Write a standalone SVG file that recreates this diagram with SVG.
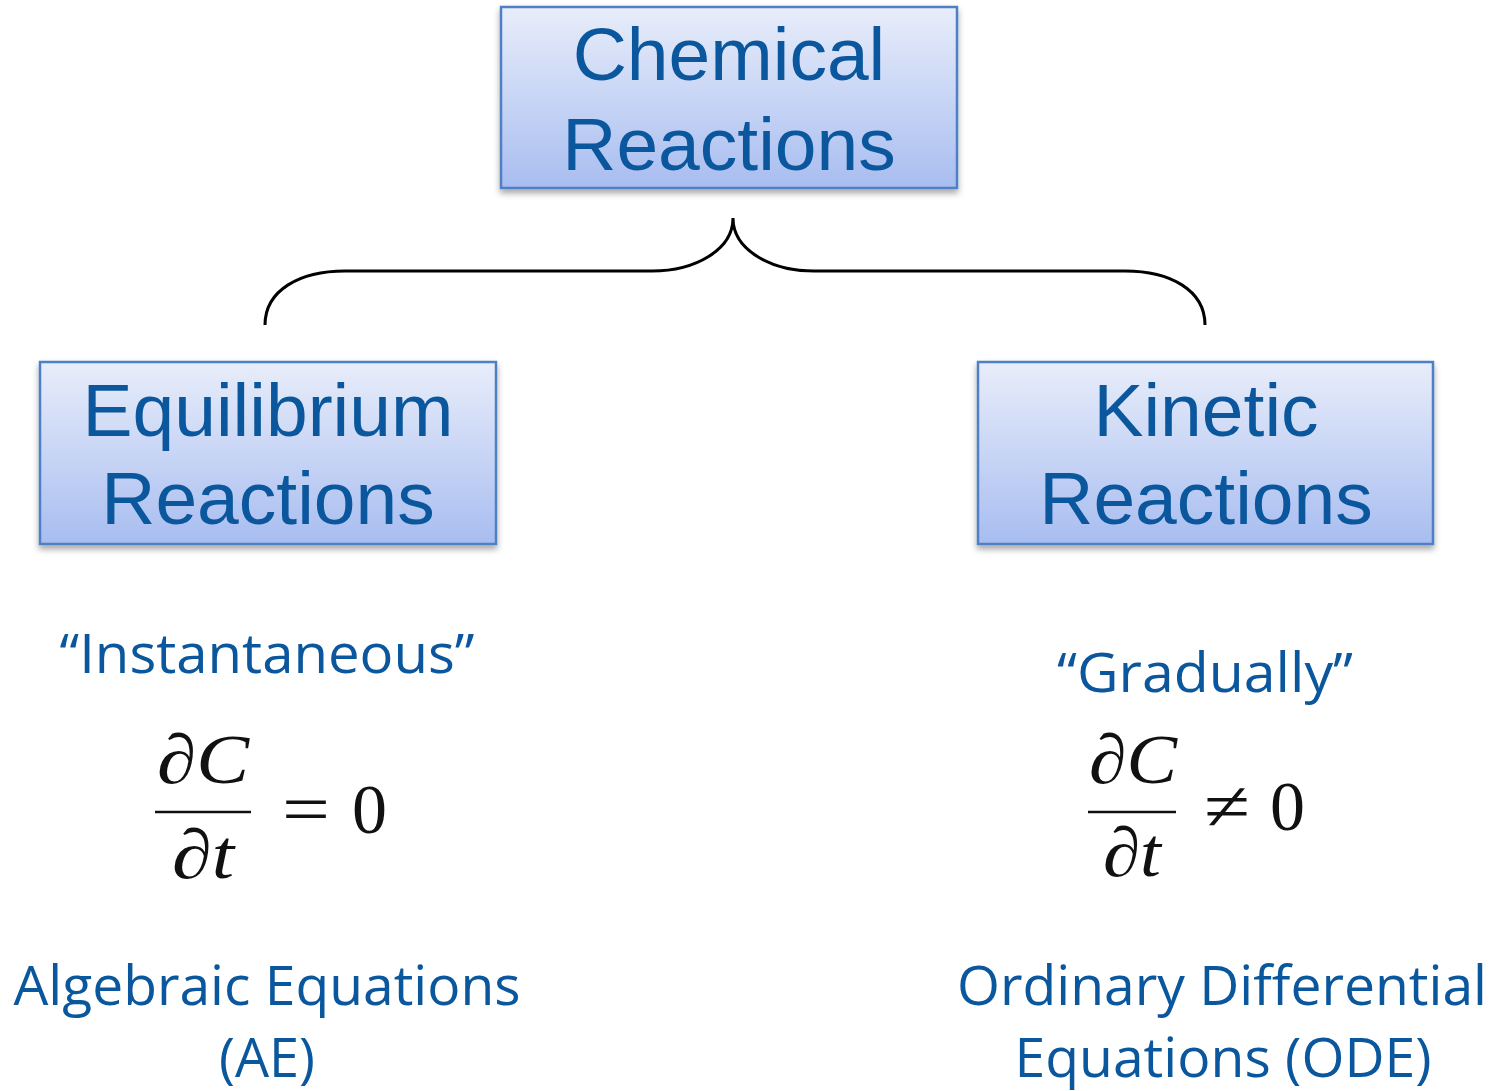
<svg xmlns="http://www.w3.org/2000/svg" width="1497" height="1091" viewBox="0 0 1497 1091">
<style>
.box{stroke:#4f7fc4;stroke-width:2.5;fill:url(#g)}
.bt{font-family:"Liberation Sans",Arial,sans-serif;font-size:75px;fill:#0b579d;text-anchor:middle}
.lt{font-family:"Open Sans","Noto Sans",sans-serif;font-size:54px;fill:#0b579d;text-anchor:middle}
.m{font-family:"Liberation Serif","Times New Roman",serif;font-size:70px;fill:#111}
.mi{font-style:italic}
</style>
<defs>
<linearGradient id="g" x1="0" y1="0" x2="0" y2="1">
<stop offset="0" stop-color="#e8edfa"/>
<stop offset="1" stop-color="#a8bdf0"/>
</linearGradient>
<filter id="sh" x="-5%" y="-5%" width="110%" height="120%">
<feDropShadow dx="0" dy="4" stdDeviation="3" flood-color="#000" flood-opacity="0.35"/>
</filter>
</defs>
<g id="connectors">
<path d="M265,325 C265,290 300,271 345,271 L652,271 C695,271 733,250 733,218 C733,250 771,271 814,271 L1125,271 C1170,271 1205,290 1205,325" fill="none" stroke="#000" stroke-width="3"/>
</g>
<g id="chemical">
<rect class="box" x="501" y="7" width="456" height="181" filter="url(#sh)"/>
<text class="bt" x="729" y="80">Chemical</text>
<text class="bt" x="729" y="170">Reactions</text>
</g>
<g id="equilibrium">
<rect class="box" x="40" y="362" width="456" height="182" filter="url(#sh)"/>
<text class="bt" x="268" y="436">Equilibrium</text>
<text class="bt" x="268" y="524">Reactions</text>
</g>
<g id="kinetic">
<rect class="box" x="978" y="362" width="455" height="182" filter="url(#sh)"/>
<text class="bt" x="1206" y="436">Kinetic</text>
<text class="bt" x="1206" y="524">Reactions</text>
</g>
<g id="equilibrium-desc">
<text class="lt" x="267" y="673" textLength="415" lengthAdjust="spacingAndGlyphs">“Instantaneous”</text>
<text class="m" x="157" y="783" textLength="92" lengthAdjust="spacingAndGlyphs"><tspan>∂</tspan><tspan class="mi">C</tspan></text>
<line x1="155" y1="812" x2="251" y2="812" stroke="#111" stroke-width="2.5"/>
<text class="m" x="172" y="878" textLength="62" lengthAdjust="spacingAndGlyphs"><tspan>∂</tspan><tspan class="mi">t</tspan></text>
<text class="m" x="282" y="833" textLength="48" lengthAdjust="spacingAndGlyphs">=</text>
<text class="m" x="352" y="833">0</text>
<text class="lt" x="267" y="1005" textLength="507" lengthAdjust="spacingAndGlyphs">Algebraic Equations</text>
<text class="lt" x="267" y="1077">(AE)</text>
</g>
<g id="kinetic-desc">
<text class="lt" x="1205" y="692" textLength="296" lengthAdjust="spacingAndGlyphs">“Gradually”</text>
<text class="m" x="1089" y="783" textLength="88" lengthAdjust="spacingAndGlyphs"><tspan>∂</tspan><tspan class="mi">C</tspan></text>
<line x1="1088" y1="812" x2="1176" y2="812" stroke="#111" stroke-width="2.5"/>
<text class="m" x="1103" y="876" textLength="58" lengthAdjust="spacingAndGlyphs"><tspan>∂</tspan><tspan class="mi">t</tspan></text>
<text class="m" x="1204" y="830" textLength="46" lengthAdjust="spacingAndGlyphs">≠</text>
<text class="m" x="1270" y="830">0</text>
<text class="lt" x="1222" y="1005" textLength="530" lengthAdjust="spacingAndGlyphs">Ordinary Differential</text>
<text class="lt" x="1223" y="1077" textLength="417" lengthAdjust="spacingAndGlyphs">Equations (ODE)</text>
</g>
</svg>
